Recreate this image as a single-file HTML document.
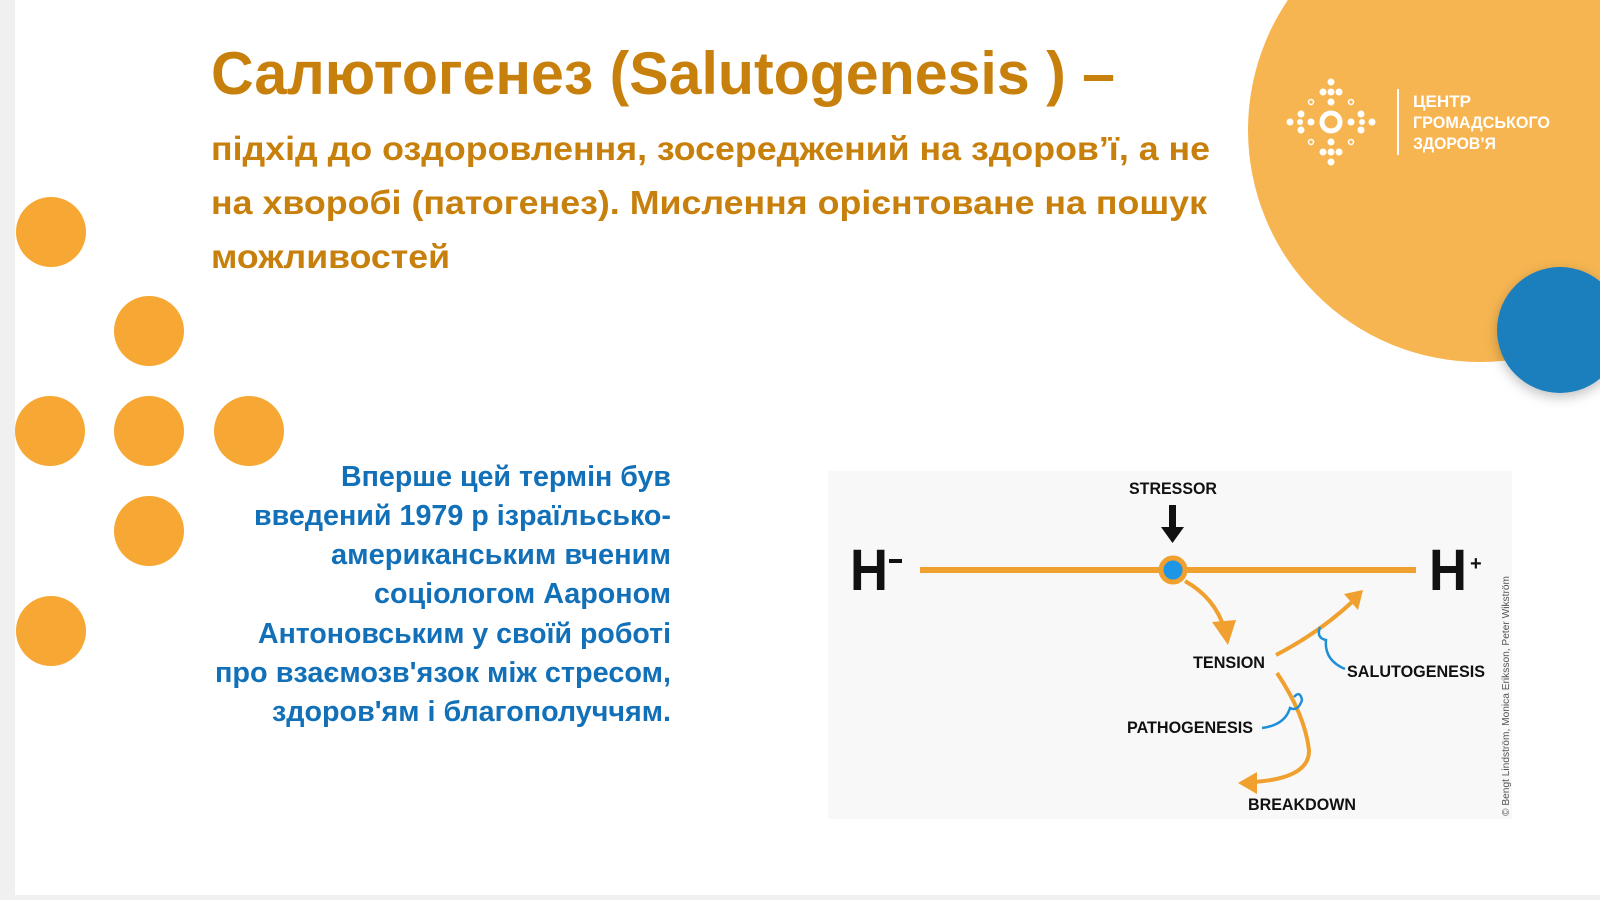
<!DOCTYPE html>
<html><head><meta charset="utf-8"><style>
html,body{margin:0;padding:0;background:#fff;}
svg{display:block;}
text{font-family:"Liberation Sans","DejaVu Sans",sans-serif;}
</style></head><body>
<svg width="1600" height="900" viewBox="0 0 1600 900" xmlns="http://www.w3.org/2000/svg">
<defs>
<filter id="sh" x="-30%" y="-30%" width="160%" height="160%"><feDropShadow dx="0" dy="4" stdDeviation="6" flood-color="#000" flood-opacity="0.25"/></filter>
</defs>
<rect width="1600" height="900" fill="#fff"/>
<rect x="0" y="0" width="15" height="900" fill="#f0f0f0"/>
<rect x="0" y="895" width="1600" height="5" fill="#f0f0f0"/>

<circle cx="1480" cy="130" r="232" fill="#f6b551"/>
<circle cx="1560" cy="330" r="63" fill="#1f7fbd" filter="url(#sh)"/>

<g fill="#fff">
<circle cx="1331" cy="122" r="9" fill="none" stroke="#fff" stroke-width="5"/>
<circle cx="1331" cy="82" r="3.5"/><circle cx="1323" cy="92" r="3.5"/><circle cx="1331" cy="92" r="3.5"/><circle cx="1339" cy="92" r="3.5"/><circle cx="1331" cy="102" r="3.5"/>
<circle cx="1331" cy="162" r="3.5"/><circle cx="1323" cy="152" r="3.5"/><circle cx="1331" cy="152" r="3.5"/><circle cx="1339" cy="152" r="3.5"/><circle cx="1331" cy="142" r="3.5"/>
<circle cx="1290" cy="122" r="3.5"/><circle cx="1301" cy="114" r="3.5"/><circle cx="1301" cy="130" r="3.5"/><circle cx="1300" cy="122" r="3"/><circle cx="1311" cy="122" r="3.5"/>
<circle cx="1372" cy="122" r="3.5"/><circle cx="1361" cy="114" r="3.5"/><circle cx="1361" cy="130" r="3.5"/><circle cx="1362" cy="122" r="3"/><circle cx="1351" cy="122" r="3.5"/>
<g fill="none" stroke="#fff" stroke-width="1.5"><circle cx="1311" cy="102" r="2.5"/><circle cx="1351" cy="102" r="2.5"/><circle cx="1311" cy="142" r="2.5"/><circle cx="1351" cy="142" r="2.5"/></g>
<rect x="1397" y="89" width="2" height="66"/>
<text x="1413" y="107" font-size="17" font-weight="bold" textLength="58" lengthAdjust="spacingAndGlyphs">ЦЕНТР</text>
<text x="1413" y="128" font-size="17" font-weight="bold" textLength="137" lengthAdjust="spacingAndGlyphs">ГРОМАДСЬКОГО</text>
<text x="1413" y="149" font-size="17" font-weight="bold" textLength="83" lengthAdjust="spacingAndGlyphs">ЗДОРОВ’Я</text>
</g>

<text x="211" y="94" font-size="60" font-weight="bold" fill="#c8800c" textLength="904" lengthAdjust="spacingAndGlyphs">Салютогенез (Salutogenesis ) –</text>
<g font-size="33" font-weight="bold" fill="#c8800c">
<text x="211" y="160" textLength="999" lengthAdjust="spacingAndGlyphs">підхід до оздоровлення, зосереджений на здоров’ї, а не</text>
<text x="211" y="214" textLength="996" lengthAdjust="spacingAndGlyphs">на хворобі (патогенез). Мислення орієнтоване на пошук</text>
<text x="211" y="268" textLength="239" lengthAdjust="spacingAndGlyphs">можливостей</text>
</g>

<g fill="#f7a733">
<circle cx="51" cy="232" r="35"/><circle cx="149" cy="331" r="35"/>
<circle cx="50" cy="431" r="35"/><circle cx="149" cy="431" r="35"/><circle cx="249" cy="431" r="35"/>
<circle cx="149" cy="531" r="35"/><circle cx="51" cy="631" r="35"/>
</g>

<g font-size="29" font-weight="bold" fill="#1170b8" text-anchor="end">
<text x="671" y="486" textLength="330" lengthAdjust="spacingAndGlyphs">Вперше цей термін був</text>
<text x="671" y="525" textLength="417" lengthAdjust="spacingAndGlyphs">введений 1979 р ізраїльсько-</text>
<text x="671" y="564" textLength="340" lengthAdjust="spacingAndGlyphs">американським вченим</text>
<text x="671" y="603" textLength="297" lengthAdjust="spacingAndGlyphs">соціологом Аароном</text>
<text x="671" y="643" textLength="413" lengthAdjust="spacingAndGlyphs">Антоновським у своїй роботі</text>
<text x="671" y="682" textLength="456" lengthAdjust="spacingAndGlyphs">про взаємозв'язок між стресом,</text>
<text x="671" y="721" textLength="399" lengthAdjust="spacingAndGlyphs">здоров'ям і благополуччям.</text>
</g>

<rect x="828" y="471" width="684" height="348" fill="#f8f8f8"/>
<g font-weight="bold" fill="#111">
<text x="1173" y="494" font-size="17" text-anchor="middle" textLength="88" lengthAdjust="spacingAndGlyphs">STRESSOR</text>
<text x="850" y="590" font-size="58" textLength="38" lengthAdjust="spacingAndGlyphs">H</text>
<rect x="889" y="559" width="13" height="4"/>
<text x="1429" y="590" font-size="58" textLength="38" lengthAdjust="spacingAndGlyphs">H</text>
<text x="1470" y="570" font-size="20">+</text>
<text x="1193" y="668" font-size="17" textLength="72" lengthAdjust="spacingAndGlyphs">TENSION</text>
<text x="1347" y="677" font-size="17" textLength="138" lengthAdjust="spacingAndGlyphs">SALUTOGENESIS</text>
<text x="1127" y="733" font-size="17" textLength="126" lengthAdjust="spacingAndGlyphs">PATHOGENESIS</text>
<text x="1248" y="810" font-size="17" textLength="108" lengthAdjust="spacingAndGlyphs">BREAKDOWN</text>
</g>
<rect x="1169" y="505" width="7" height="24" fill="#111"/>
<path d="M1161,527 L1184,527 L1172.5,543 Z" fill="#111"/>
<line x1="920" y1="570" x2="1416" y2="570" stroke="#f0a02e" stroke-width="6"/>
<circle cx="1173" cy="570" r="12" fill="#1e96e6" stroke="#f0a02e" stroke-width="5"/>
<g fill="none" stroke="#f0a02e" stroke-width="4">
<path d="M1185,581 Q1215,598 1224,628" />
<path d="M1276,655 Q1320,632 1352,602" />
<path d="M1277,673 Q1305,715 1309,750 Q1310,778 1254,782" />
</g>
<path d="M1212,622 L1236,620 L1228,645 Z" fill="#f0a02e"/>
<path d="M1344,594 L1363,590 L1358,610 Z" fill="#f0a02e"/>
<path d="M1257,772 L1238,783 L1257,794 Z" fill="#f0a02e"/>
<g fill="none" stroke="#1e8fd8" stroke-width="2.5">
<path d="M1320,627 Q1316,638 1326,640 Q1324,660 1345,669"/>
<path d="M1294,697 Q1300,690 1302,700 Q1298,712 1290,708 Q1285,725 1262,728"/>
</g>
<text transform="translate(1509,816) rotate(-90)" font-size="10" fill="#555" textLength="240" lengthAdjust="spacingAndGlyphs">© Bengt Lindström, Monica Eriksson, Peter Wikström</text>
</svg>
</body></html>
